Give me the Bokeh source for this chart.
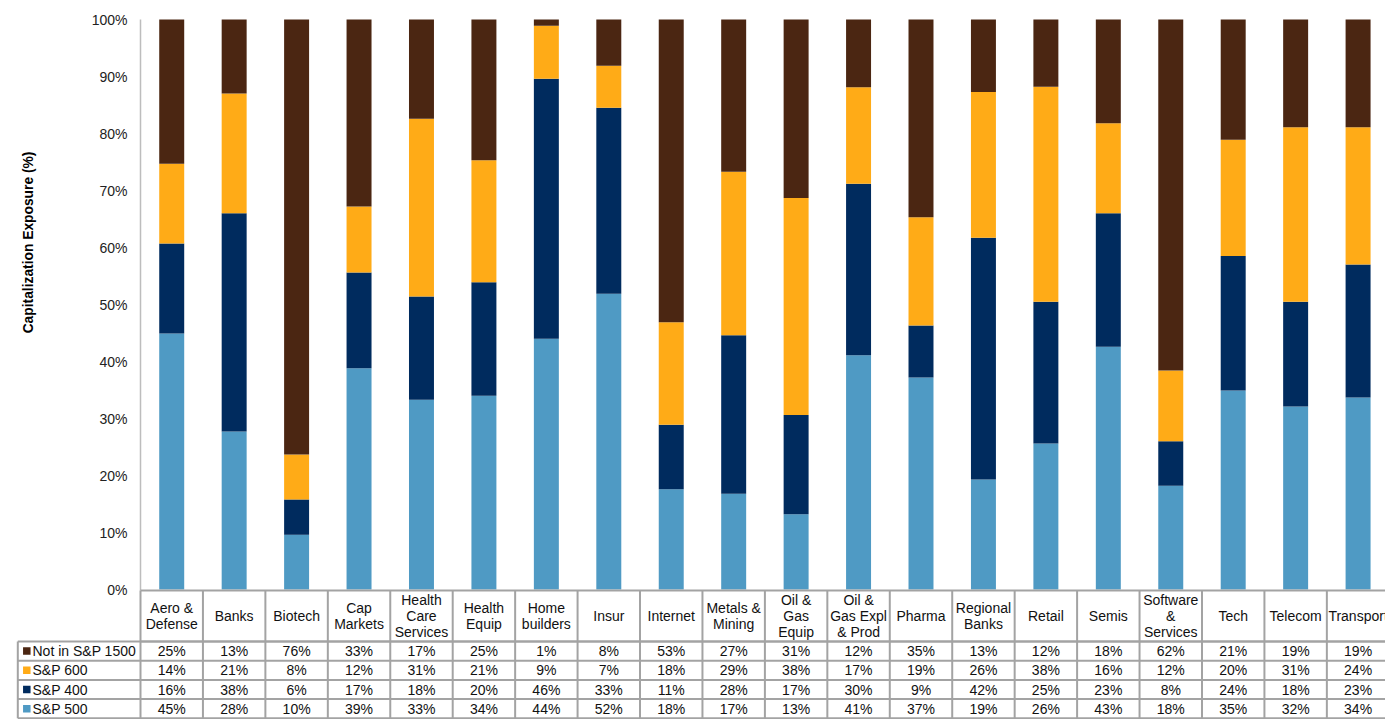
import math
from bokeh.plotting import figure
from bokeh.models import ColumnDataSource, Range1d
from bokeh.core.properties import value
from bokeh.embed import file_html
from bokeh.resources import INLINE

# ---------------- data ----------------
categories = ["Aero &\nDefense", "Banks", "Biotech", "Cap\nMarkets", "Health\nCare\nServices",
              "Health\nEquip", "Home\nbuilders", "Insur", "Internet", "Metals &\nMining",
              "Oil &\nGas\nEquip", "Oil &\nGas Expl\n& Prod", "Pharma", "Regional\nBanks",
              "Retail", "Semis", "Software\n&\nServices", "Tech", "Telecom", "Transport"]
sp500 = [44.9, 27.7, 9.6, 38.8, 33.3, 34.0, 44.0, 51.9, 17.6, 16.8,
         13.2, 41.1, 37.2, 19.3, 25.6, 42.6, 18.2, 34.9, 32.1, 33.7]
sp400 = [15.8, 38.3, 6.2, 16.8, 18.1, 19.9, 45.6, 32.6, 11.3, 27.8,
         17.4, 30.1, 9.1, 42.4, 24.9, 23.4, 7.8, 23.6, 18.4, 23.3]
sp600 = [14.0, 21.0, 7.9, 11.6, 31.2, 21.4, 9.3, 7.4, 18.0, 28.7,
         38.1, 16.9, 19.0, 25.6, 37.7, 15.8, 12.4, 20.4, 30.6, 24.1]
not1500 = [25.3, 13.0, 76.3, 32.8, 17.4, 24.7, 1.1, 8.1, 53.1, 26.7,
           31.3, 11.9, 34.7, 12.7, 11.8, 18.2, 61.6, 21.1, 18.9, 18.9]
series_names = ["Not in S&P 1500", "S&P 600", "S&P 400", "S&P 500"]
y_ticks = [0, 10, 20, 30, 40, 50, 60, 70, 80, 90, 100]
y_label = "Capitalization Exposure (%)"

# ---------------- style / layout ----------------
C500, C400, C600, CNOT = "#4F9AC4", "#002B5E", "#FFAB17", "#4B2612"
series_colors = [CNOT, C600, C400, C500]
BORDER = "#A3A3A3"
AXIS = "#BDBDBD"
FONT = "Liberation Sans"
TXT = "#111111"

W, H = 1385, 719
COL = 62.44      # px per category column
X0 = 140         # px of the value axis
Y0 = 589         # px of the 0% line
PY = 5.7         # px per percent


def xd(px):
    return (px - X0) / COL


def yd(py):
    return (Y0 - py) / PY


n = len(categories)

p = figure(width=W, height=H, output_backend="svg", toolbar_location=None,
           x_range=Range1d(xd(0), xd(W)), y_range=Range1d(yd(H), yd(0)),
           x_axis_location=None, y_axis_location=None,
           min_border_left=0, min_border_right=0, min_border_top=0, min_border_bottom=0)
p.outline_line_color = None
p.xgrid.visible = False
p.ygrid.visible = False
p.background_fill_color = "white"

# stacked bars
src = ColumnDataSource(dict(x=[i + 0.5 for i in range(n)], s500=sp500, s400=sp400,
                            s600=sp600, snot=not1500))
p.vbar_stack(["s500", "s400", "s600", "snot"], x="x", width=0.4, source=src,
             color=[C500, C400, C600, CNOT], line_color=None)

# value axis: line, tick labels, title
hdr_top, hdr_bot = yd(590), yd(641)
p.segment(x0=[0], y0=[100], x1=[0], y1=[hdr_top], line_color=AXIS, line_width=1.5)
p.text(x=[xd(127)] * len(y_ticks), y=y_ticks, text=[f"{t}%" for t in y_ticks],
       text_align="right", text_baseline="middle", text_font=value(FONT),
       text_font_size="14px", text_color="#222222")
p.text(x=[xd(28)], y=[yd(242)], text=[y_label], angle=math.pi / 2,
       text_align="center", text_baseline="middle", text_font=value(FONT),
       text_font_size="13.8px", text_font_style="bold", text_color="#000000")

# header row of data table
p.segment(x0=[0, 0], y0=[hdr_top, hdr_bot], x1=[n, n], y1=[hdr_top, hdr_bot],
          line_color=BORDER, line_width=2)
p.segment(x0=list(range(n + 1)), y0=[hdr_top] * (n + 1), x1=list(range(n + 1)),
          y1=[hdr_bot] * (n + 1), line_color=BORDER, line_width=2)
p.text(x=[i + 0.5 for i in range(n)], y=[(hdr_top + hdr_bot) / 2] * n, text=categories,
       text_align="center", text_baseline="middle", text_font=value(FONT),
       text_font_size="14px", text_line_height=0.97, text_color=TXT)

# data rows
ROW_PX = 19.2
rows = [not1500, sp600, sp400, sp500]
nr = len(rows)
leg_left = xd(17.3)
ys = [yd(641 + k * ROW_PX) for k in range(nr + 1)]
p.segment(x0=[leg_left] * (nr + 1), y0=ys, x1=[n] * (nr + 1), y1=ys,
          line_color=BORDER, line_width=2)
vx = [leg_left] + list(range(n + 1))
p.segment(x0=vx, y0=[ys[0]] * len(vx), x1=vx, y1=[ys[-1]] * len(vx),
          line_color=BORDER, line_width=2)

centers = [yd(641 + (k + 0.5) * ROW_PX) for k in range(nr)]
p.scatter(x=[xd(26.3)] * nr, y=centers, marker="square", size=7.5,
          color=series_colors, line_color=None)
p.text(x=[xd(32)] * nr, y=centers, text=series_names,
       text_align="left", text_baseline="middle", text_font=value(FONT),
       text_font_size="14px", text_color=TXT)

vx_, vy_, vt_ = [], [], []
for k, row in enumerate(rows):
    for i, v in enumerate(row):
        vx_.append(i + 0.5)
        vy_.append(centers[k])
        vt_.append(f"{round(v)}%")
p.text(x=vx_, y=vy_, text=vt_, text_align="center", text_baseline="middle",
       text_font=value(FONT), text_font_size="14px", text_color=TXT)

open("out.html", "w").write(file_html(p, INLINE))
